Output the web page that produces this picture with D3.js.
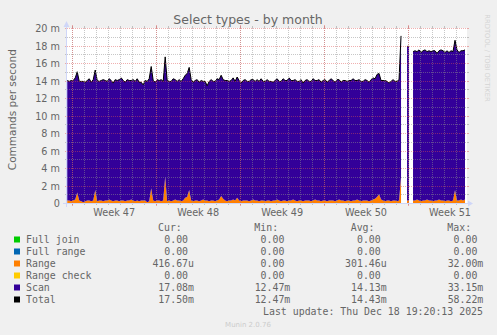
<!DOCTYPE html>
<html>
<head>
<meta charset="utf-8">
<script src="https://cdn.jsdelivr.net/npm/d3@7"></script>
<style>
  body { margin: 0; background: #f0f0f0; }
  svg { display: block; font-family: "DejaVu Sans", sans-serif; }
  .mono { font-family: "DejaVu Sans Mono", monospace; }
</style>
</head>
<body>
<svg id="chart" width="497" height="335"></svg>
<script>
// one sample every 4 hours, first one at 2025-11-16 14:00 UTC
var sampleStart = Date.UTC(2025, 10, 16, 14, 0);
var sampleHours = 4;

// Scan (in m = milli commands/s), NaN = unknown
var scan = [
  13.7,13.6,13.8,13.7,13.9,13.8,13.6,13.7,13.8,13.6,
  13.7,13.9,13.6,13.8,13.7,13.8,13.6,13.7,13.9,13.7,
  13.6,13.8,13.7,13.5,13.8,13.7,13.9,14.0,13.7,13.6,
  13.8,13.7,13.6,13.8,13.7,13.9,13.6,13.5,13.2,13.7,
  13.8,14.0,13.9,13.7,13.6,13.8,13.7,13.9,13.6,13.7,
  13.8,13.6,13.7,13.9,13.7,13.6,13.8,13.7,13.9,14.0,
  14.1,14.0,13.8,13.6,13.7,13.8,13.6,13.7,13.5,13.6,
  13.1,13.7,13.8,13.6,13.7,13.9,13.7,13.8,13.6,13.7,
  13.8,13.6,13.7,13.9,13.6,13.8,13.7,13.5,13.7,13.8,
  13.6,13.7,13.8,13.7,13.6,13.8,13.7,13.9,13.6,13.7,
  13.8,13.6,13.7,13.5,13.7,13.8,13.6,13.7,13.9,13.7,
  13.8,14.0,13.7,13.6,13.8,13.7,13.6,13.8,13.5,13.7,
  13.8,13.6,13.7,13.9,13.6,13.7,13.8,13.6,13.7,13.8,
  13.6,13.7,13.9,13.7,13.6,13.8,13.7,13.5,13.7,13.8,
  13.6,13.7,13.8,13.9,13.7,13.6,13.8,13.7,13.6,13.8,
  13.7,13.6,13.8,13.9,13.7,14.0,13.8,13.6,13.7,13.8,
  13.6,13.4,13.7,13.8,13.6,13.7,13.8,16.1,NaN,NaN,
  17.6,17.6,NaN,17.0,17.1,16.9,17.2,17.0,17.1,17.2,
  16.9,17.1,17.0,17.2,17.1,16.8,17.0,17.2,17.1,17.0,
  17.1,16.9,17.2,17.0,17.1,17.2,16.9,17.0,17.1,17.1
];

// Range (m)
var range = [
  0.3,0.3,0.2,0.3,0.4,1.2,0.3,0.2,0.1,0.2,
  0.3,0.3,0.2,0.3,1.5,0.2,0.3,0.3,0.2,0.3,
  0.3,0.4,0.3,0.2,0.3,0.3,0.2,0.3,0.3,0.2,
  0.3,0.3,0.4,0.3,0.2,0.3,0.2,0.3,0.3,0.3,
  0.1,0.2,1.7,0.3,0.2,0.3,0.3,0.2,0.3,3.0,
  0.2,0.3,0.2,0.3,0.4,0.3,0.3,0.2,0.3,0.6,
  0.7,1.5,0.3,0.2,0.3,0.3,0.2,0.3,0.4,0.3,
  0.3,0.2,0.3,0.3,0.2,0.3,0.4,0.8,0.5,0.3,
  0.2,0.3,0.3,0.4,0.3,0.6,0.3,0.2,0.3,0.3,
  0.3,0.2,0.3,0.4,0.3,0.3,0.2,0.3,0.3,0.2,
  0.3,0.3,0.2,0.3,0.3,0.4,0.3,0.2,0.3,0.3,
  0.2,0.3,0.3,0.4,0.3,0.2,0.3,0.3,0.2,0.3,
  0.3,0.3,0.2,0.3,0.4,0.3,0.3,0.2,0.3,0.3,
  0.2,0.3,0.3,0.3,0.2,0.3,0.4,0.3,0.3,0.2,
  0.3,0.3,0.2,0.3,0.3,0.4,0.3,0.2,0.3,0.3,
  0.3,0.2,0.3,0.4,0.5,0.7,1.0,0.4,0.3,0.2,
  0.3,0.3,0.2,0.3,0.3,0.2,0.3,3.0,NaN,NaN,
  0.3,0.3,NaN,0.3,0.3,0.4,0.3,0.2,0.3,0.3,
  0.4,0.3,0.3,0.2,0.3,0.3,0.4,0.3,0.3,0.2,
  0.3,0.3,0.2,0.3,1.5,0.3,0.3,0.4,0.3,0.4
];

var yTicks = [0, 2, 4, 6, 8, 10, 12, 14, 16, 18, 20];
var yTickLabels = ["0", "2 m", "4 m", "6 m", "8 m", "10 m", "12 m", "14 m", "16 m", "18 m", "20 m"];

var legendNames  = ["Full join", "Full range", "Range", "Range check", "Scan", "Total"];
var legendColors = ["#00cc00", "#0066b3", "#ff8000", "#ffcc00", "#330099", "#000000"];
var legendCur = ["0.00", "0.00", "416.67u", "0.00", "17.08m", "17.50m"];
var legendMin = ["0.00", "0.00", "0.00", "0.00", "12.47m", "12.47m"];
var legendAvg = ["0.00", "0.00", "301.46u", "0.00", "14.13m", "14.43m"];
var legendMax = ["0.00", "0.00", "32.00m", "0.00", "33.15m", "58.22m"];

var svg = d3.select("#chart");
var W = 497, H = 335;
var plotLeft = 67, plotTop = 28, pw = 400, ph = 175;
var textCol = "#666666";

svg.append("rect").attr("width", W).attr("height", H).attr("fill", "#f0f0f0");

var tStart = new Date(Date.UTC(2025, 10, 16, 13, 30));
var tEnd = new Date(Date.UTC(2025, 11, 19, 22, 0));
var x = d3.scaleUtc().domain([tStart, tEnd]).range([plotLeft, plotLeft + pw]);
var y = d3.scaleLinear().domain([0, 20]).range([plotTop + ph, plotTop]);

var rows = scan.map(function(s, i) {
  return {
    t: new Date(sampleStart + i * sampleHours * 3600 * 1000),
    range: range[i],
    scan: s
  };
});
var stack = d3.stack().keys(["range", "scan"])(rows);

// canvas
svg.append("rect").attr("x", plotLeft).attr("y", plotTop).attr("width", pw).attr("height", ph).attr("fill", "#ffffff");

var area = d3.area()
  .defined(function(d) { return !isNaN(d[1]); })
  .x(function(d) { return x(d.data.t); })
  .y0(function(d) { return y(d[0]); })
  .y1(function(d) { return y(d[1]); });

svg.append("g").selectAll("path").data(stack).enter().append("path")
  .attr("d", area)
  .attr("fill", function(d) { return d.key == "range" ? "#ff8000" : "#330099"; });

var line = d3.line()
  .defined(function(d) { return !isNaN(d.scan) && !isNaN(d.range); })
  .x(function(d) { return x(d.t); })
  .y(function(d) { return y(d.scan + d.range); });

svg.append("path").datum(rows).attr("d", line)
  .attr("fill", "none").attr("stroke", "#000").attr("stroke-width", 1);

// grid on top of data, like rrdtool
var minorCol = "rgba(143,143,143,0.5)";
var majorCol = "rgba(222,79,79,0.45)";
var grid = svg.append("g").attr("shape-rendering", "crispEdges");
function px(v) { return Math.round(v) + 0.5; }

d3.range(0, 21, 1).forEach(function(v) {
  var major = yTicks.indexOf(v) >= 0;
  var yy = px(y(v));
  grid.append("line").attr("x1", plotLeft).attr("x2", plotLeft + pw).attr("y1", yy).attr("y2", yy)
    .attr("stroke", major ? majorCol : minorCol).attr("stroke-dasharray", "1,1");
  grid.append("line").attr("x1", plotLeft - 2).attr("x2", plotLeft).attr("y1", yy).attr("y2", yy)
    .attr("stroke", major ? majorCol : minorCol);
  grid.append("line").attr("x1", plotLeft + pw).attr("x2", plotLeft + pw + 2).attr("y1", yy).attr("y2", yy)
    .attr("stroke", major ? majorCol : minorCol);
});

var days = d3.utcDay.range(tStart, tEnd);
var mondays = d3.utcMonday.range(tStart, tEnd);
days.forEach(function(d) {
  var xx = px(x(d));
  grid.append("line").attr("x1", xx).attr("x2", xx).attr("y1", plotTop).attr("y2", plotTop + ph)
    .attr("stroke", minorCol).attr("stroke-dasharray", "1,1");
  grid.append("line").attr("x1", xx).attr("x2", xx).attr("y1", plotTop + ph).attr("y2", plotTop + ph + 2)
    .attr("stroke", minorCol);
  grid.append("line").attr("x1", xx).attr("x2", xx).attr("y1", plotTop - 2).attr("y2", plotTop)
    .attr("stroke", minorCol);
});
mondays.forEach(function(d) {
  var xx = px(x(d));
  grid.append("line").attr("x1", xx).attr("x2", xx).attr("y1", plotTop).attr("y2", plotTop + ph)
    .attr("stroke", majorCol).attr("stroke-dasharray", "1,1");
  grid.append("line").attr("x1", xx).attr("x2", xx).attr("y1", plotTop + ph).attr("y2", plotTop + ph + 3)
    .attr("stroke", majorCol);
  grid.append("line").attr("x1", xx).attr("x2", xx).attr("y1", plotTop - 3).attr("y2", plotTop)
    .attr("stroke", majorCol);
});

// axes (light blue, with arrows)
var axisCol = "#cfd6f8";
svg.append("line").attr("x1", plotLeft - 4).attr("x2", plotLeft + pw + 2).attr("y1", plotTop + ph + 0.5).attr("y2", plotTop + ph + 0.5)
  .attr("stroke", axisCol);
svg.append("path").attr("d", "M" + (plotLeft + pw + 1) + "," + (plotTop + ph - 2.5) + "L" + (plotLeft + pw + 6) + "," + (plotTop + ph + 0.5) + "L" + (plotLeft + pw + 1) + "," + (plotTop + ph + 3.5) + "Z")
  .attr("fill", axisCol);
svg.append("line").attr("x1", plotLeft - 0.5).attr("x2", plotLeft - 0.5).attr("y1", plotTop + ph + 4).attr("y2", plotTop - 2)
  .attr("stroke", axisCol);
svg.append("path").attr("d", "M" + (plotLeft - 3.5) + "," + (plotTop - 1) + "L" + (plotLeft - 0.5) + "," + (plotTop - 7) + "L" + (plotLeft + 2.5) + "," + (plotTop - 1) + "Z")
  .attr("fill", axisCol);

// y tick labels
svg.append("g").selectAll("text").data(yTicks).enter().append("text")
  .attr("x", plotLeft - 7).attr("y", function(d) { return px(y(d)) + 3.5; })
  .attr("text-anchor", "end").attr("font-size", "9.7px").attr("fill", textCol)
  .text(function(d, i) { return yTickLabels[i]; });

// week labels, centred in each week
var fmtWeek = d3.utcFormat("Week %V");
var weekMids = d3.utcMonday.range(d3.utcMonday.offset(tStart, -1), tEnd)
  .map(function(m) { return new Date(m.getTime() + 3.5 * 86400000); })
  .filter(function(m) { return m > tStart && m < tEnd; });
svg.append("g").selectAll("text").data(weekMids).enter().append("text")
  .attr("x", function(d) { return x(d); }).attr("y", 216)
  .attr("text-anchor", "middle").attr("font-size", "9.7px").attr("fill", textCol)
  .text(fmtWeek);

// titles
svg.append("text").attr("x", 248).attr("y", 23.5).attr("text-anchor", "middle")
  .attr("font-size", "12.5px").attr("fill", textCol).text("Select types - by month");
svg.append("text").attr("transform", "translate(15.5,109.7) rotate(-90)").attr("text-anchor", "middle")
  .attr("font-size", "10.5px").attr("fill", textCol).text("Commands per second");
svg.append("text").attr("transform", "translate(485,58) rotate(90)").attr("text-anchor", "middle")
  .attr("font-size", "6.8px").attr("fill", "#d4d4d4").text("RRDTOOL / TOBI OETIKER");

// legend
var lg = svg.append("g").attr("class", "mono").attr("font-size", "9.9px").attr("fill", textCol);
var colEnds = [194, 290.3, 386.7, 483.3];
var colHeads = ["Cur:", "Min:", "Avg:", "Max:"];
var colVals = [legendCur, legendMin, legendAvg, legendMax];
var charW = 5.96;
colHeads.forEach(function(h, c) {
  lg.append("text").attr("x", colEnds[c] - 36).attr("y", 231.3).text(h);
});
legendNames.forEach(function(n, i) {
  var cy = 239.5 + 12 * i;
  lg.append("rect").attr("x", 14).attr("y", cy - 3).attr("width", 6).attr("height", 6)
    .attr("fill", legendColors[i]);
  lg.append("text").attr("x", 26).attr("y", cy + 3.6).text(n);
  colVals.forEach(function(vals, c) {
    var v = vals[i];
    var unit = /[0-9]$/.test(v) ? charW : 0;
    lg.append("text").attr("x", colEnds[c] - unit).attr("y", cy + 3.6)
      .attr("text-anchor", "end").text(v);
  });
});
lg.append("text").attr("x", 483).attr("y", 315.3).attr("text-anchor", "end")
  .text("Last update: Thu Dec 18 19:20:13 2025");

svg.append("text").attr("x", 248).attr("y", 327).attr("text-anchor", "middle")
  .attr("font-size", "7px").attr("fill", "#cccccc").text("Munin 2.0.76");
</script>
</body>
</html>
